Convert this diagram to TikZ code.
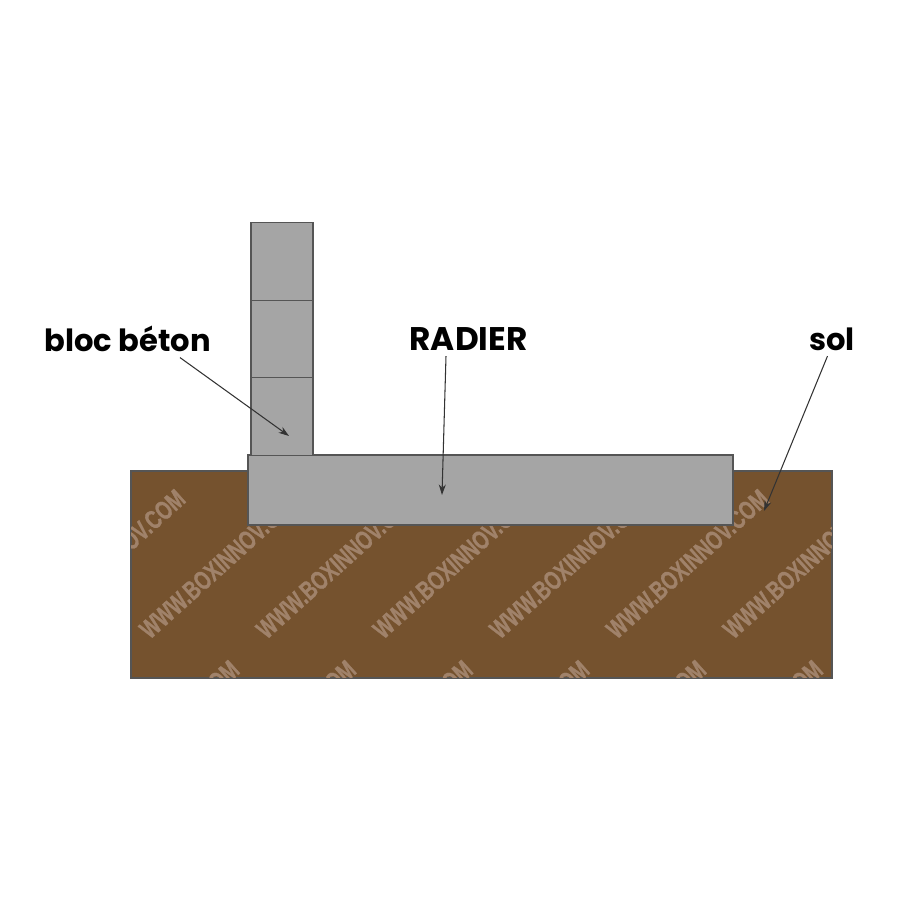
\documentclass[tikz,border=0pt]{standalone}
\usepackage{fontspec}
\setmainfont{Poppins}
\newfontfamily\markfont[FakeBold=1]{Liberation Sans Bold}
\usepackage{xcolor}
\definecolor{soilbrown}{HTML}{75522E}
\definecolor{markbrown}{HTML}{A0826A}
\definecolor{blockgrey}{HTML}{A5A5A5}
\definecolor{edgegrey}{HTML}{555555}
\usetikzlibrary{arrows.meta}
\tikzset{
    block-box/.style = {draw=edgegrey, fill=blockgrey, line width=0.3pt, rectangle, inner sep=0pt, minimum width=0.62cm, minimum height=0.775cm},
    soil-box/.style = {draw=edgegrey, fill=soilbrown, line width=0.3pt, rectangle, inner sep=0pt, minimum width=7.01cm, minimum height=2.07cm},
    slab-box/.style = {draw=edgegrey, fill=blockgrey, line width=0.3pt, rectangle, inner sep=0pt, minimum width=4.85cm, minimum height=0.7cm},
    name-label/.style = {text=black, font=\fontsize{8.7}{10}\selectfont\bfseries, inner sep=0pt},
    pointer/.style = {draw=black!80, line width=0.3pt, -{Stealth[length=3pt,width=2pt]}},
    web-mark/.style = {text=markbrown, font=\markfont\fontsize{7.5}{8}\selectfont, rotate=42, xscale=0.72, inner sep=0pt},
}

\begin{document}
\begin{tikzpicture}
\useasboundingbox (0,0) rectangle (9,9);
\node[soil-box] (soil) at (4.815,3.255) {};
% watermark rows, cut at the soil edge
\begin{scope}
\clip (soil.south west) rectangle (soil.north east);
\foreach \k in {0,...,6}{
    \node[web-mark] (markA\k) at ({1.04+1.167*\k},3.36) {WWW.BOXINNOV.COM};
}
\foreach \k in {0,...,5}{
    \node[web-mark] (markB\k) at ({1.58+1.167*\k},1.65) {WWW.BOXINNOV.COM};
}
\end{scope}
\draw[edgegrey, line width=0.3pt] (soil.south west) rectangle (soil.north east);
\node[slab-box] (slab) at (4.905,4.1) {};
\node[block-box] (block1) at (2.82,4.837) {};
\node[block-box] (block2) at (2.82,5.612) {};
\node[block-box] (block3) at (2.82,6.387) {};

\node[name-label] (blocLabel) at (1.275,5.61) {bloc béton};
\node[name-label, font=\fontsize{9.3}{10}\selectfont\bfseries] (slabLabel) at (4.685,5.61) {RADIER};
\node[name-label] (soilLabel) at (8.32,5.61) {sol};

\coordinate (blocTip) at (2.89,4.64);
\coordinate (slabTip) at (4.42,4.05);
\coordinate (soilTip) at (7.64,3.89);
\draw[pointer] ([shift={(0.525,-0.05)}]blocLabel.south) -- (blocTip);
\draw[pointer] ([shift={(-0.225,-0.05)}]slabLabel.south) -- (slabTip);
\draw[pointer] ([shift={(-0.28,-0.05)}]soilLabel.south east) -- (soilTip);
\end{tikzpicture}
\end{document}
